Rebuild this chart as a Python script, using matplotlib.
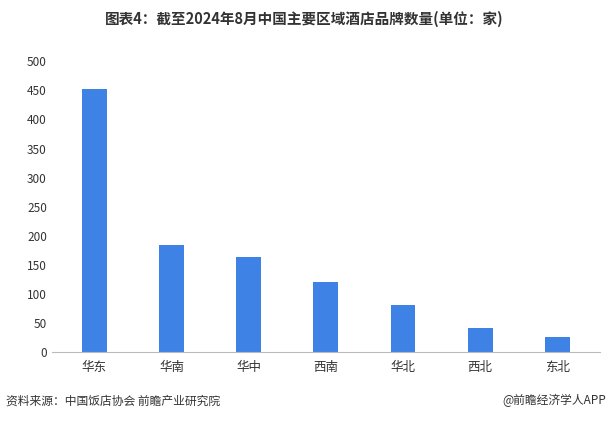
import matplotlib
matplotlib.use("Agg")
import matplotlib.pyplot as plt

plt.rcParams['font.family'] = ['Noto Sans CJK SC', 'DejaVu Sans']

regions = ["华东", "华南", "华中", "西南", "华北", "西北", "东北"]
counts = [452, 185, 164, 121, 81, 41, 26]
yticks = [0, 50, 100, 150, 200, 250, 300, 350, 400, 450, 500]

fig = plt.figure(figsize=(6.09, 4.22), dpi=100)
ax = fig.add_axes([0.085, 0.165, 0.9, 0.69])
ax.bar(range(len(regions)), counts, width=0.32, color="#3f82e6")
ax.set_xticks(range(len(regions)))
ax.set_xticklabels(regions, fontsize=9, color="#333333")
ax.set_yticks(yticks)
ax.set_yticklabels([str(v) for v in yticks], fontsize=8.5, color="#333333")
ax.set_ylim(0, 500)
ax.set_xlim(-0.55, 6.55)
for s in ["top", "right", "left"]:
    ax.spines[s].set_visible(False)
ax.spines["bottom"].set_color("#bbbbbb")
ax.tick_params(axis="both", length=0)
ax.tick_params(axis="x", pad=6)

fig.text(0.5, 0.955, "图表4：截至2024年8月中国主要区域酒店品牌数量(单位：家)",
         ha="center", va="center", fontsize=10.5, fontweight="bold", color="#333333")
fig.text(0.01, 0.05, "资料来源：中国饭店协会 前瞻产业研究院", ha="left", va="center",
         fontsize=8.5, color="#333333")
fig.text(0.995, 0.05, "@前瞻经济学人APP", ha="right", va="center",
         fontsize=8.5, color="#333333")
fig.savefig("out.png", dpi=100)
